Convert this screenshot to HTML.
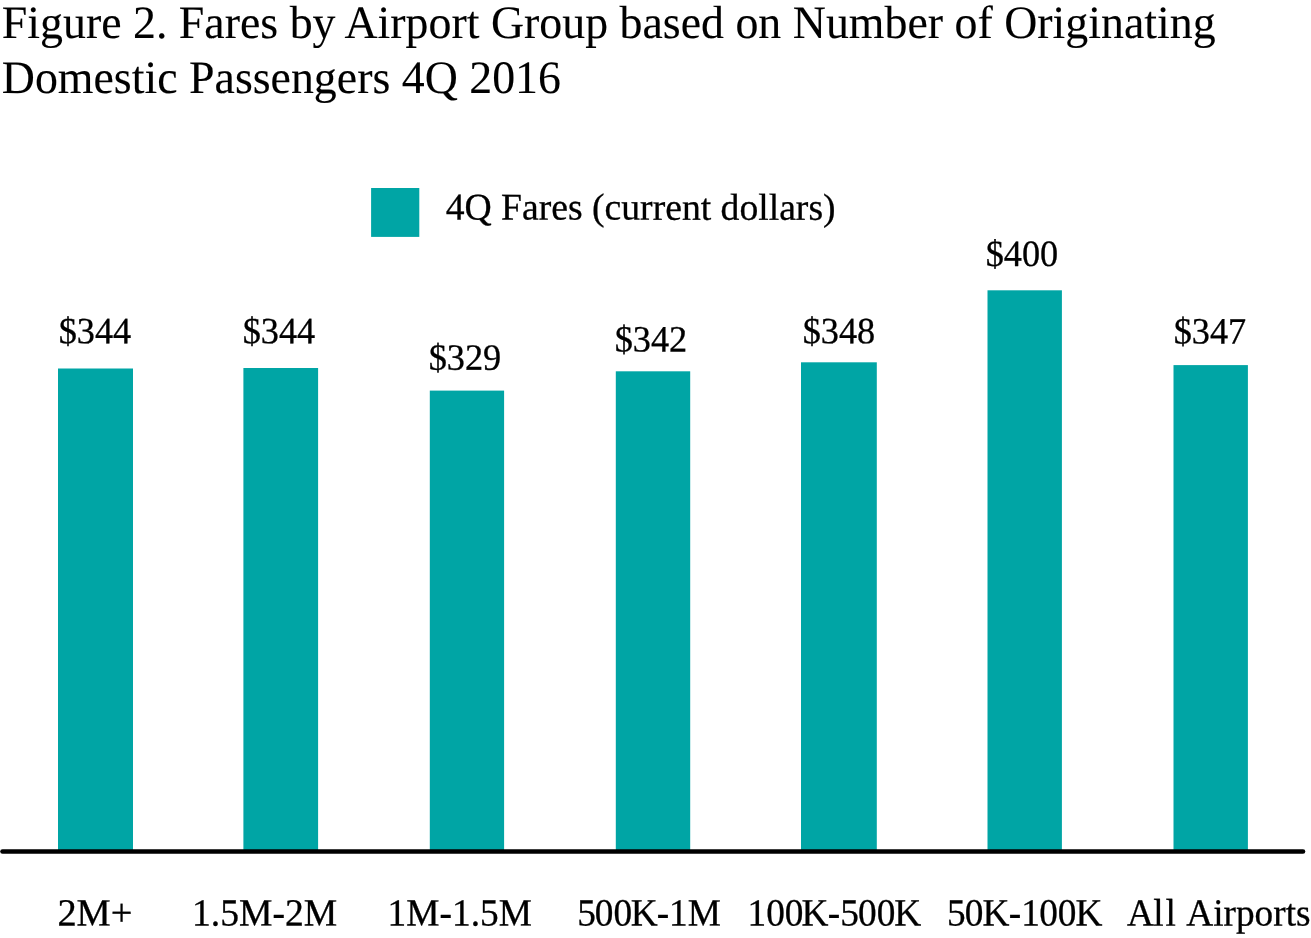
<!DOCTYPE html>
<html lang="en">
<head>
<meta charset="utf-8">
<title>Figure 2. Fares by Airport Group based on Number of Originating Domestic Passengers 4Q 2016</title>
<style>
  html, body { margin: 0; padding: 0; background: #ffffff; }
  body { width: 1311px; height: 938px; overflow: hidden; position: relative; }
  svg { position: absolute; left: 0; top: 0; display: block; }
  text { font-family: "Liberation Serif", "Times New Roman", Times, serif; fill: #000000; stroke: #000000; stroke-width: 0.3px; stroke-linejoin: round; text-rendering: geometricPrecision; }
  .title { font-size: 45.86px; stroke-width: 0.1px; }
  .legend { font-size: 37.65px; }
  .val { font-size: 36.45px; }
  .cat { font-size: 37.3px; }
  .bar { fill: #00a5a5; }
</style>
</head>
<body>
<svg width="1311" height="938" viewBox="0 0 1311 938">
  <rect x="0" y="0" width="1311" height="938" fill="#ffffff"/>

  <!-- Title -->
  <text class="title" transform="translate(1.8 38) scale(1 1.015)">Figure 2. Fares by Airport Group based on Number of Originating</text>
  <text class="title" transform="translate(1.8 93) scale(1 1.015)">Domestic Passengers 4Q 2016</text>

  <!-- Legend -->
  <rect class="bar" x="371.1" y="188" width="48.2" height="48.9"/>
  <text class="legend" transform="translate(445.7 219.45) skewY(0.05)">4Q Fares (current dollars)</text>

  <!-- Bars -->
  <rect class="bar" x="58"     y="368.5" width="75"   height="482"/>
  <rect class="bar" x="243.4"  y="368"   width="74.7" height="483"/>
  <rect class="bar" x="429.8"  y="390.6" width="74.3" height="460"/>
  <rect class="bar" x="615.8"  y="371.3" width="74.4" height="480"/>
  <rect class="bar" x="801"    y="362.3" width="75.8" height="489"/>
  <rect class="bar" x="987.5"  y="290.3" width="74.4" height="561"/>
  <rect class="bar" x="1173.5" y="365.1" width="74.4" height="486"/>

  <!-- Data labels -->
  <text class="val" transform="translate(58.7 343.25) skewY(0.05) scale(0.995 1.02)">$344</text>
  <text class="val" transform="translate(242.7 343.25) skewY(0.05) scale(0.995 1.02)">$344</text>
  <text class="val" transform="translate(428.7 369.65) skewY(0.05) scale(0.995 1.02)">$329</text>
  <text class="val" transform="translate(614.7 351.55) skewY(0.05) scale(0.995 1.02)">$342</text>
  <text class="val" transform="translate(802.7 343.25) skewY(0.05) scale(0.995 1.02)">$348</text>
  <text class="val" transform="translate(985.7 266.05) skewY(0.05) scale(0.995 1.02)">$400</text>
  <text class="val" transform="translate(1173.7 343.45) skewY(0.05) scale(0.995 1.02)">$347</text>

  <!-- Axis -->
  <line x1="2.5" y1="851.5" x2="1303" y2="851.5" stroke="#000000" stroke-width="4.6" stroke-linecap="round"/>

  <!-- Category labels -->
  <text class="cat" transform="translate(57.4 925.45) skewY(0.05) scale(1.03 1.03)">2M+</text>
  <text class="cat" transform="translate(192 925.45) skewY(0.05) scale(1.009 1.03)">1.5M-2M</text>
  <text class="cat" transform="translate(387.6 925.45) skewY(0.05) scale(1.002 1.03)">1M-1.5M</text>
  <text class="cat" transform="translate(577.2 925.45) skewY(0.05) scale(1 1.03)" dx="0 -1.1 0 -1.3 -1 0 0">500K-1M</text>
  <text class="cat" transform="translate(747.5 925.45) skewY(0.05) scale(1 1.03)" dx="0 0 0 -1.9 -0.8 0 -0.8 0 -1">100K-500K</text>
  <text class="cat" transform="translate(947 925.45) skewY(0.05) scale(1 1.03)" dx="0 -1 -0.8 -0.6 -0.1 -0.7 0 -0.9">50K-100K</text>
  <text class="cat" transform="translate(1127 925.45) skewY(0.05) scale(1 1.03)" dx="0 -0.6 1.7 3.2">All Airports</text>
</svg>
</body>
</html>
